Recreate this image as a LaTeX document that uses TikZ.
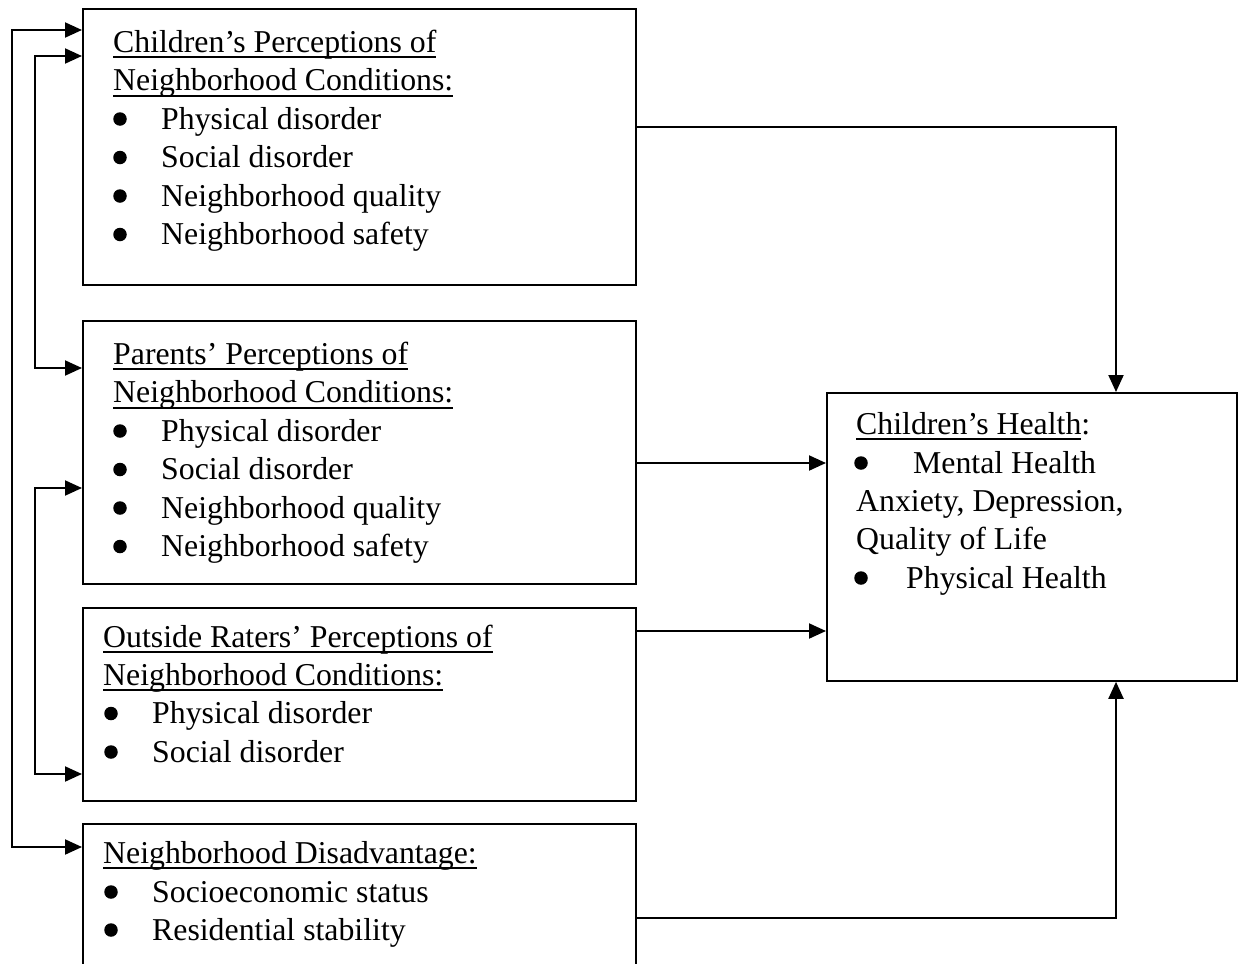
\documentclass[tikz,border=0pt]{standalone}
\usepackage{fontspec}
\setmainfont{Liberation Serif}
\usetikzlibrary{arrows.meta}
\newcommand\myul[1]{\setbox0\hbox{#1}\rlap{\rule[-6pt]{\wd0}{2pt}}\box0}
\begin{document}
\begin{tikzpicture}[x=1pt,y=-1pt,
  box/.style={draw,line width=1.8pt,inner sep=0,anchor=north west},
  txt/.style={anchor=base west,inner sep=0,font=\fontsize{31.8}{38}\selectfont},
  bul/.style={circle,fill,draw=none,inner sep=0,minimum size=13.5pt},
  conn/.style={line width=2pt,-{Triangle[length=17pt,width=15pt]}},
  connb/.style={line width=2pt,{Triangle[length=17pt,width=15pt]}-{Triangle[length=17pt,width=15pt]}}]
\useasboundingbox (0,0) rectangle (1240,964);
\clip (0,0) rectangle (1240,964);
% boxes
\node[box,minimum width=553pt,minimum height=276pt] (c) at (82,8) {};
\node[box,minimum width=553pt,minimum height=263pt] (p) at (82,320) {};
\node[box,minimum width=553pt,minimum height=193pt] (o) at (82,607) {};
\node[box,minimum width=553pt,minimum height=170pt] (d) at (82,823) {};
\node[box,minimum width=410pt,minimum height=288pt] (h) at (826,392) {};
% box 1 text
\node[txt] (c1) at (113,52) {\myul{Children’s Perceptions of}};
\node[txt] (c2) at (113,90.5) {\myul{Neighborhood Conditions:}};
\node[bul] (cb1) at (120,119) {};
\node[txt] (c3) at (161,129) {Physical disorder};
\node[bul] (cb2) at (120,157.5) {};
\node[txt] (c4) at (161,167.5) {Social disorder};
\node[bul] (cb3) at (120,196) {};
\node[txt] (c5) at (161,206) {Neighborhood quality};
\node[bul] (cb4) at (120,234.5) {};
\node[txt] (c6) at (161,244.5) {Neighborhood safety};
% box 2 text
\node[txt] (p1) at (113,364) {\myul{Parents’ Perceptions of}};
\node[txt] (p2) at (113,402.5) {\myul{Neighborhood Conditions:}};
\node[bul] (pb1) at (120,431) {};
\node[txt] (p3) at (161,441) {Physical disorder};
\node[bul] (pb2) at (120,469.5) {};
\node[txt] (p4) at (161,479.5) {Social disorder};
\node[bul] (pb3) at (120,508) {};
\node[txt] (p5) at (161,518) {Neighborhood quality};
\node[bul] (pb4) at (120,546.5) {};
\node[txt] (p6) at (161,556.5) {Neighborhood safety};
% box 3 text
\node[txt] (o1) at (103,647) {\myul{Outside Raters’ Perceptions of}};
\node[txt] (o2) at (103,685) {\myul{Neighborhood Conditions:}};
\node[bul] (ob1) at (111,713.5) {};
\node[txt] (o3) at (152,723.5) {Physical disorder};
\node[bul] (ob2) at (111,752) {};
\node[txt] (o4) at (152,762) {Social disorder};
% box 4 text
\node[txt] (d1) at (103,863) {\myul{Neighborhood Disadvantage:}};
\node[bul] (db1) at (111,892) {};
\node[txt] (d2) at (152,902) {Socioeconomic status};
\node[bul] (db2) at (111,930) {};
\node[txt] (d3) at (152,940) {Residential stability};
% health text
\node[txt] (h1) at (856,434) {\myul{Children’s Health}:};
\node[bul] (hb1) at (861,463) {};
\node[txt] (h2) at (913,473) {Mental Health};
\node[txt] (h3) at (856,511) {Anxiety, Depression,};
\node[txt] (h4) at (856,549) {Quality of Life};
\node[bul] (hb2) at (861,578) {};
\node[txt] (h5) at (906,588) {Physical Health};
% connector coordinates
\coordinate (r1) at (1116,127);
\coordinate (r4) at (1116,918);
\coordinate (y2) at (0,463);
\coordinate (y3) at (0,631);
\coordinate (l1) at (12,30);
\coordinate (l2) at (12,847);
\coordinate (m1) at (35,56);
\coordinate (m2) at (35,368);
\coordinate (n1) at (35,488);
\coordinate (n2) at (35,774);
% right connectors
\draw[conn] (c.east |- r1) -- (r1) -- (r1 |- h.north);
\draw[conn] (p.east |- y2) -- (h.west |- y2);
\draw[conn] (o.east |- y3) -- (h.west |- y3);
\draw[conn] (d.east |- r4) -- (r4) -- (r4 |- h.south);
% left connectors
\draw[connb] (c.west |- l1) -- (l1) -- (l2) -- (d.west |- l2);
\draw[connb] (c.west |- m1) -- (m1) -- (m2) -- (p.west |- m2);
\draw[connb] (p.west |- n1) -- (n1) -- (n2) -- (o.west |- n2);
\end{tikzpicture}
\end{document}
